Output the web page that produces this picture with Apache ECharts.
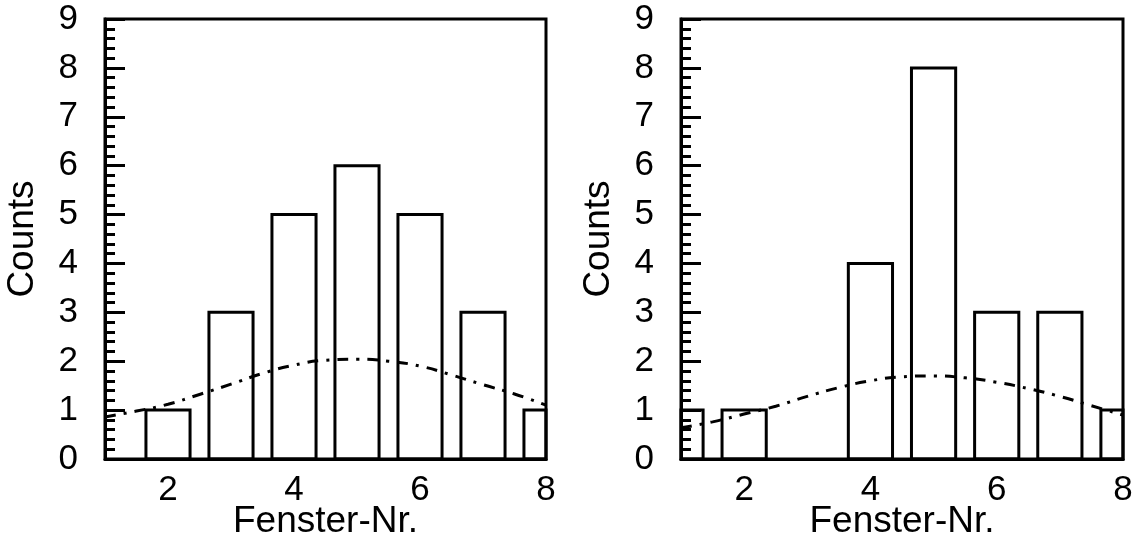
<!DOCTYPE html>
<html>
<head>
<meta charset="utf-8">
<script src="https://cdn.jsdelivr.net/npm/echarts@6/dist/echarts.min.js"></script>
<style>
html,body{margin:0;padding:0;background:#fff;}
#c{width:1133px;height:543px;}
</style>
</head>
<body>
<div id="c"></div>
<script>
// ---- data ----
var binCenters = [1, 2, 3, 4, 5, 6, 7, 8];
var leftCounts = [0, 1, 3, 5, 6, 5, 3, 1];
var rightCounts = [1, 1, 0, 4, 8, 3, 3, 1];
var curveX = [1, 1.5, 2, 2.5, 3, 3.5, 4, 4.5, 5, 5.5, 6, 6.5, 7, 7.5, 8];
var leftCurve = [0.86, 0.98, 1.12, 1.32, 1.53, 1.75, 1.92, 2.02, 2.04, 2.00, 1.90, 1.72, 1.52, 1.33, 1.10];
var rightCurve = [0.64, 0.76, 0.92, 1.08, 1.28, 1.46, 1.60, 1.68, 1.70, 1.66, 1.57, 1.44, 1.28, 1.09, 0.90];
var xTickLabels = [2, 4, 6, 8];
var yMin = 0, yMax = 9;
var xMin = 1, xMax = 8;
var xName = 'Fenster-Nr.';
var yName = 'Counts';

var FONT = '"Liberation Sans", Arial, Helvetica, sans-serif';
var BAR_W = 0.7;

function pairs(xs, ys) { return xs.map(function (x, i) { return [x, ys[i]]; }); }

function renderBar(params, api) {
  var x = api.value(0), v = api.value(1);
  if (v <= 0) return null;
  var p0 = api.coord([x - BAR_W / 2, v]);
  var p1 = api.coord([x + BAR_W / 2, 0]);
  var rect = { x: p0[0], y: p0[1], width: p1[0] - p0[0], height: p1[1] - p0[1] };
  var cs = params.coordSys;
  var clipped = echarts.graphic.clipRectByRect(rect, { x: cs.x, y: cs.y, width: cs.width, height: cs.height });
  if (!clipped) return null;
  return {
    type: 'rect',
    shape: clipped,
    style: { fill: 'rgba(0,0,0,0)', stroke: '#000', lineWidth: 3 }
  };
}

function xAxisDef(gi) {
  return {
    gridIndex: gi, type: 'value', min: xMin, max: xMax,
    name: xName, nameLocation: 'middle', nameGap: 44, nameMoveOverlap: false,
    nameTextStyle: { fontFamily: FONT, fontSize: 37, color: '#000' },
    axisLine: { show: true, onZero: false, lineStyle: { color: '#000', width: 3 } },
    axisTick: { show: false },
    splitLine: { show: false },
    axisLabel: { customValues: xTickLabels, fontFamily: FONT, fontSize: 35, color: '#000', margin: 14 }
  };
}
function yAxisDef(gi) {
  return {
    gridIndex: gi, type: 'value', min: yMin, max: yMax, interval: 1,
    name: yName, nameLocation: 'middle', nameGap: 64, nameRotate: 90, nameMoveOverlap: false,
    nameTextStyle: { fontFamily: FONT, fontSize: 37, color: '#000' },
    axisLine: { show: true, lineStyle: { color: '#000', width: 3 } },
    axisTick: { show: true, inside: true, length: 20, lineStyle: { color: '#000', width: 3 } },
    minorTick: { show: true, splitNumber: 5, length: 10, lineStyle: { color: '#000', width: 3 } },
    splitLine: { show: false },
    axisLabel: { fontFamily: FONT, fontSize: 35, color: '#000', margin: 27 }
  };
}
function curveSeries(gi, ys) {
  return {
    type: 'line', xAxisIndex: gi, yAxisIndex: gi, smooth: true, symbol: 'none',
    data: pairs(curveX, ys), z: 5,
    lineStyle: { color: '#000', width: 3, type: [11, 8, 3, 8] }
  };
}
function barSeries(gi, counts) {
  return {
    type: 'custom', xAxisIndex: gi, yAxisIndex: gi, renderItem: renderBar,
    data: pairs(binCenters, counts), z: 3
  };
}

var chart = echarts.init(document.getElementById('c'), null, { renderer: 'canvas' });
chart.setOption({
  animation: false,
  backgroundColor: '#fff',
  grid: [
    { left: 105, right: 587, top: 19, bottom: 84, show: true, borderColor: '#000', borderWidth: 3, backgroundColor: 'transparent', containLabel: false, outerBoundsMode: 'none' },
    { left: 681, right: 10, top: 19, bottom: 84, show: true, borderColor: '#000', borderWidth: 3, backgroundColor: 'transparent', containLabel: false, outerBoundsMode: 'none' }
  ],
  xAxis: [xAxisDef(0), xAxisDef(1)],
  yAxis: [yAxisDef(0), yAxisDef(1)],
  series: [
    barSeries(0, leftCounts), curveSeries(0, leftCurve),
    barSeries(1, rightCounts), curveSeries(1, rightCurve)
  ]
});
</script>
</body>
</html>
